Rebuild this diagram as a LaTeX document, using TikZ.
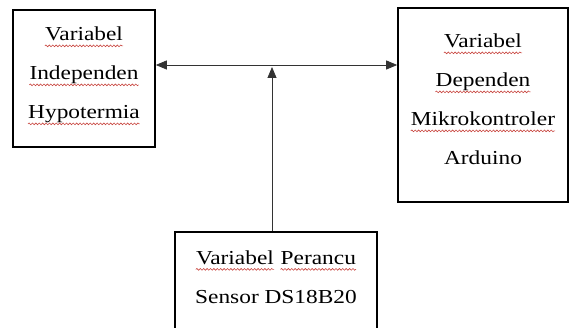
\documentclass[tikz,border=0pt]{standalone}
\usepackage{fontspec}
\setmainfont{Liberation Serif}[FakeStretch=1.18]
\usetikzlibrary{arrows.meta,decorations.pathmorphing}
\definecolor{spellc}{HTML}{C8453F}
% word with the red spell-check wave under it
\newcommand{\squig}[1]{\tikz[baseline=(w.base)]{%
  \node[inner sep=0pt, minimum size=0pt, text depth={}, draw=none] (w) {#1};
  \draw[spellc, line width=0.6pt, decorate, decoration={snake, amplitude=0.9pt, segment length=3.4pt}]
    ([yshift=-5pt]w.base west) -- ([yshift=-5pt]w.base east);}}

\begin{document}
\begin{tikzpicture}[x=1pt, y=-1pt,
  varbox/.style={draw, line width=1.6pt, align=center, inner sep=0pt, text depth=11pt,
    font=\fontsize{19.8}{39}\selectfont},
  arr/.style={-{Triangle[length=11pt, width=9pt]}, line width=0.8pt, draw=black!80},
  biarr/.style={{Triangle[length=11pt, width=9pt]}-{Triangle[length=11pt, width=9pt]},
    line width=0.8pt, draw=black!80}
]
  \useasboundingbox (0,0) rectangle (571,328);
  \clip (0,0) rectangle (571,328);

  \node[varbox, minimum width=142pt, minimum height=137pt] (indep) at (84,78.5)
    {\squig{Variabel}\\ \squig{Independen}\\ \squig{Hypotermia}};
  \node[varbox, minimum width=170pt, minimum height=194pt] (dep) at (483,105)
    {\squig{Variabel}\\ \squig{Dependen}\\ \squig{Mikrokontroler}\\ Arduino};
  \node[varbox, minimum width=202pt, minimum height=101pt] (perancu) at (276,282.5)
    {\squig{Variabel} \squig{Perancu}\\ Sensor DS18B20};

  \coordinate (junc) at (272,65);
  \draw[biarr] (indep.east |- junc) -- (dep.west |- junc);
  \draw[arr] (perancu.north -| junc) -- ([yshift=-2pt]junc);
\end{tikzpicture}
\end{document}
